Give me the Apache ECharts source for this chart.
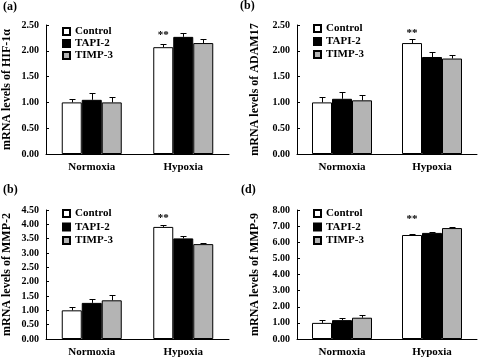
<!DOCTYPE html>
<html>
<head>
<meta charset="utf-8">
<script src="https://cdn.jsdelivr.net/npm/echarts@6/dist/echarts.min.js"></script>
<style>
html, body { margin: 0; padding: 0; background: #fff; }
#chart { width: 480px; height: 358px; }
</style>
</head>
<body>
<div id="chart"></div>
<script>
const categories = ['Normoxia', 'Hypoxia'];
const groupNames = ['Control', 'TAPI-2', 'TIMP-3'];
const panelLabels = ['(a)', '(b)', '(b)', '(d)'];
const yNames = ['mRNA levels of HIF-1α', 'mRNA levels of ADAM17', 'mRNA levels of MMP-2', 'mRNA levels of MMP-9'];
const yMax = [2.5, 2.5, 4.5, 8];
const yStep = [0.5, 0.5, 0.5, 1];

// rows: Control, TAPI-2, TIMP-3 ; cols: Normoxia, Hypoxia
const hifMean = [[1.00, 2.07], [1.05, 2.27], [1.00, 2.15]];
const hifErr = [[0.06, 0.06], [0.13, 0.07], [0.10, 0.07]];
const adamMean = [[1.00, 2.15], [1.07, 1.88], [1.04, 1.85]];
const adamErr = [[0.11, 0.07], [0.14, 0.10], [0.10, 0.07]];
const mmp2Mean = [[1.00, 3.91], [1.26, 3.51], [1.35, 3.31]];
const mmp2Err = [[0.10, 0.06], [0.15, 0.07], [0.17, 0.03]];
const mmp9Mean = [[1.00, 6.45], [1.17, 6.58], [1.32, 6.88]];
const mmp9Err = [[0.18, 0.05], [0.12, 0.05], [0.16, 0.06]];

const means = [hifMean, adamMean, mmp2Mean, mmp9Mean];
const errs = [hifErr, adamErr, mmp2Err, mmp9Err];

const FONT = 'Liberation Serif';
const barW = 20;
const fills = ['#ffffff', '#000000', '#b4b4b4'];

const grids = [
    { left: 46, top: 25, width: 183, height: 129 },
    { left: 297, top: 25, width: 180, height: 129 },
    { left: 46, top: 210, width: 183, height: 132 },
    { left: 297, top: 210, width: 180, height: 132 }
];
const legendPos = [
    { left: 62, top: 26, gap: 1 },
    { left: 313, top: 23, gap: 2 },
    { left: 62, top: 208, gap: 2.5 },
    { left: 313, top: 208, gap: 2.5 }
];
const titlePos = [
    { left: 3, top: 1 },
    { left: 240, top: 0 },
    { left: 3, top: 184 },
    { left: 241, top: 184 }
];
const nameGaps = [33, 36, 33, 36];
const starDist = [7, 4, 3, 10];

function errRender(k) {
    return function (params, api) {
        const c = api.value(0);
        const m = api.value(1);
        const e = api.value(2);
        const p0 = api.coord([c, m]);
        const p1 = api.coord([c, m + e]);
        const x = Math.round(p0[0] + (k - 1) * barW) + 0.5;
        const y1 = Math.round(p1[1]) + 0.5;
        return {
            type: 'group',
            children: [
                { type: 'line', shape: { x1: x, y1: p0[1], x2: x, y2: y1 }, style: { stroke: '#000', lineWidth: 1 } },
                { type: 'line', shape: { x1: x - 3, y1: y1, x2: x + 3, y2: y1 }, style: { stroke: '#000', lineWidth: 1 } }
            ]
        };
    };
}

const chart = echarts.init(document.getElementById('chart'));
const option = {
    animation: false,
    backgroundColor: '#fff',
    title: [], grid: [], xAxis: [], yAxis: [], legend: [], series: []
};

for (let p = 0; p < 4; p++) {
    option.title.push({
        text: panelLabels[p], left: titlePos[p].left, top: titlePos[p].top, padding: 0,
        textStyle: { fontFamily: FONT, fontWeight: 'bold', fontSize: 12, color: '#000' }
    });
    option.grid.push(grids[p]);
    option.xAxis.push({
        type: 'category', gridIndex: p, data: categories,
        axisLine: { lineStyle: { color: '#000', width: 1 } },
        axisTick: { inside: true, length: 4, lineStyle: { color: '#000' } },
        axisLabel: { fontFamily: FONT, fontWeight: 'bold', fontSize: 11, color: '#000', margin: 8 }
    });
    option.yAxis.push({
        type: 'value', gridIndex: p, min: 0, max: yMax[p], interval: yStep[p],
        name: yNames[p], nameLocation: 'middle', nameGap: nameGaps[p],
        nameTextStyle: { fontFamily: FONT, fontWeight: 'bold', fontSize: 12, color: '#000' },
        axisLine: { show: true, lineStyle: { color: '#000', width: 1 } },
        axisTick: { show: true, inside: true, length: 3, lineStyle: { color: '#000' } },
        splitLine: { show: false },
        axisLabel: {
            fontFamily: FONT, fontWeight: 'bold', fontSize: 10, color: '#000', margin: 7,
            formatter: v => v.toFixed(2)
        }
    });
    option.legend.push({
        data: groupNames, orient: 'vertical', left: legendPos[p].left, top: legendPos[p].top,
        padding: 0, itemGap: legendPos[p].gap, itemWidth: 7, itemHeight: 7, icon: 'rect',
        selectedMode: false,
        textStyle: { fontFamily: FONT, fontWeight: 'bold', fontSize: 11, color: '#000', lineHeight: 11 }
    });
    for (let k = 0; k < 3; k++) {
        const vals = means[p][k].map((v, i) => {
            if (k === 0 && i === 1) {
                return {
                    value: v,
                    label: {
                        show: true, position: 'top', distance: starDist[p], formatter: '**',
                        fontFamily: FONT, fontWeight: 'bold', fontSize: 11, color: '#000'
                    }
                };
            }
            return v;
        });
        option.series.push({
            name: groupNames[k], type: 'bar', xAxisIndex: p, yAxisIndex: p,
            barWidth: barW, barGap: '0%', data: vals,
            itemStyle: { color: fills[k], borderColor: '#000', borderWidth: 1 }
        });
    }
    for (let k = 0; k < 3; k++) {
        option.series.push({
            name: 'err' + k, type: 'custom', xAxisIndex: p, yAxisIndex: p, z: 5,
            renderItem: errRender(k),
            data: means[p][k].map((v, i) => [i, v, errs[p][k][i]])
        });
    }
}
chart.setOption(option);
</script>
</body>
</html>
